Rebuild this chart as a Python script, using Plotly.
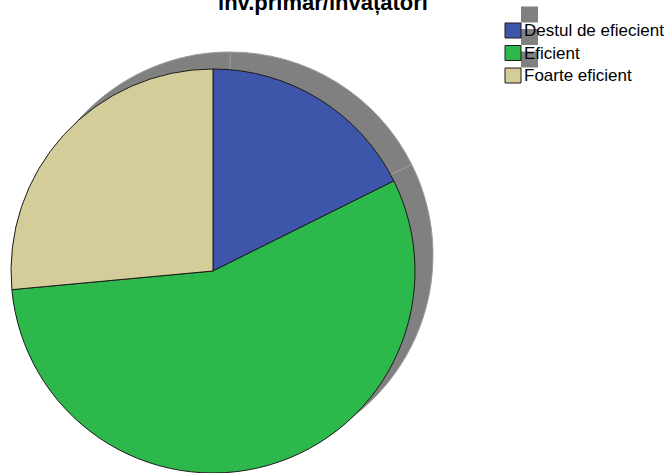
import plotly.graph_objects as go

categories = ["Destul de efiecient", "Eficient", "Foarte eficient"]
values = [6, 19, 9]
colors = ["#3D56AA", "#2DB84B", "#D5CD99"]
title_text = "inv.primar/învățători"

W, H = 672, 473
cx, cy, r = 213, 272, 203
dx, dy = 17, -17

fig = go.Figure()
# shadow pie
fig.add_trace(go.Pie(
    labels=categories, values=values, sort=False, direction="clockwise",
    rotation=0, textinfo="none", hoverinfo="skip", showlegend=False,
    marker=dict(colors=["#808080"] * 3, line=dict(color="#9a9a9a", width=1)),
    domain=dict(x=[(cx + dx - r) / W, (cx + dx + r) / W],
                y=[(H - cy - dy - r) / H, (H - cy - dy + r) / H]),
))
# main pie
fig.add_trace(go.Pie(
    labels=categories, values=values, sort=False, direction="clockwise",
    rotation=0, textinfo="none", showlegend=False,
    marker=dict(colors=colors, line=dict(color="#1a1a1a", width=1)),
    domain=dict(x=[(cx - r) / W, (cx + r) / W], y=[0, (H - cy + r) / H]),
))

# manual legend
row_centers = [30.5, 53, 75.5]
for i, (lab, col) in enumerate(zip(categories, colors)):
    yc = row_centers[i]
    # swatch shadow
    fig.add_shape(type="rect", xref="paper", yref="paper", layer="below",
                  x0=521 / W, x1=538 / W, y0=1 - (yc - 24 + 16) / H, y1=1 - (yc - 24) / H,
                  line=dict(width=0), fillcolor="#808080")
    # swatch
    fig.add_shape(type="rect", xref="paper", yref="paper", layer="above",
                  x0=505 / W, x1=521 / W, y0=1 - (yc + 7.5) / H, y1=1 - (yc - 7.5) / H,
                  line=dict(width=1, color="#1a1a1a"), fillcolor=col)
    fig.add_annotation(text=lab, xref="paper", yref="paper", showarrow=False,
                       x=522 / W, y=1 - yc / H, xanchor="left", yanchor="middle",
                       font=dict(size=17, family="Liberation Sans, Arial", color="#000000"))

fig.update_layout(
    width=W, height=H,
    margin=dict(l=0, r=0, t=0, b=0),
    paper_bgcolor="white", plot_bgcolor="white",
    showlegend=False,
    font=dict(family="Liberation Sans, Arial", size=12, color="#000000"),
    title=dict(text=title_text, x=323 / W, xanchor="center", xref="paper",
               y=1 - 2 / H, yanchor="middle", yref="container",
               font=dict(size=22, family="Liberation Sans, Arial", color="#000000", weight="bold")),
)

fig.write_html("out.html", config={"displayModeBar": False},
               post_script="document.body.style.margin='0px';")
